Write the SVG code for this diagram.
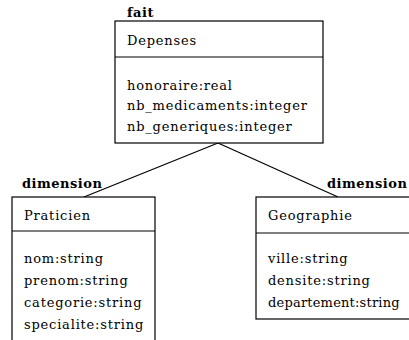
<svg xmlns="http://www.w3.org/2000/svg" width="409" height="340" viewBox="0 0 409 340">
<style>
.box{fill:#fff;stroke:#000;stroke-width:1.2}
.sep{stroke:#000;stroke-width:1.2}
.t{font-family:'DejaVu Serif',serif;font-size:13px;letter-spacing:0.8px;fill:#000}
.st{font-family:'DejaVu Serif',serif;font-size:13px;font-weight:bold;letter-spacing:0.5px;fill:#000}
.conn{stroke:#000;stroke-width:1.2;fill:none}
</style>
<rect width="409" height="340" fill="#fff"/>
<g id="connectors">
<line class="conn" x1="218" y1="143" x2="84" y2="197"/>
<line class="conn" x1="218" y1="143" x2="338" y2="197"/>
</g>
<g id="fait">
<text class="st" x="127" y="17">fait</text>
<rect class="box" x="115" y="21" width="208" height="122"/>
<line class="sep" x1="115" y1="57" x2="323" y2="57"/>
<text class="t" x="127" y="45">Depenses</text>
<text class="t" x="127" y="90">honoraire:real</text>
<text class="t" x="127" y="110">nb_medicaments:integer</text>
<text class="t" x="127" y="131">nb_generiques:integer</text>
</g>
<g id="praticien">
<text class="st" x="22" y="188">dimension</text>
<rect class="box" x="12" y="197" width="143" height="160"/>
<line class="sep" x1="12" y1="231" x2="155" y2="231"/>
<text class="t" x="24" y="220">Praticien</text>
<text class="t" x="24" y="263">nom:string</text>
<text class="t" x="24" y="285">prenom:string</text>
<text class="t" x="24" y="307">categorie:string</text>
<text class="t" x="24" y="329">specialite:string</text>
</g>
<g id="geographie">
<text class="st" x="327" y="188">dimension</text>
<rect class="box" x="256" y="197" width="170" height="122"/>
<line class="sep" x1="256" y1="233" x2="426" y2="233"/>
<text class="t" x="268" y="220">Geographie</text>
<text class="t" x="268" y="263">ville:string</text>
<text class="t" x="268" y="285">densite:string</text>
<text class="t" x="268" y="307" style="letter-spacing:0.2px">departement:string</text>
</g>
</svg>
